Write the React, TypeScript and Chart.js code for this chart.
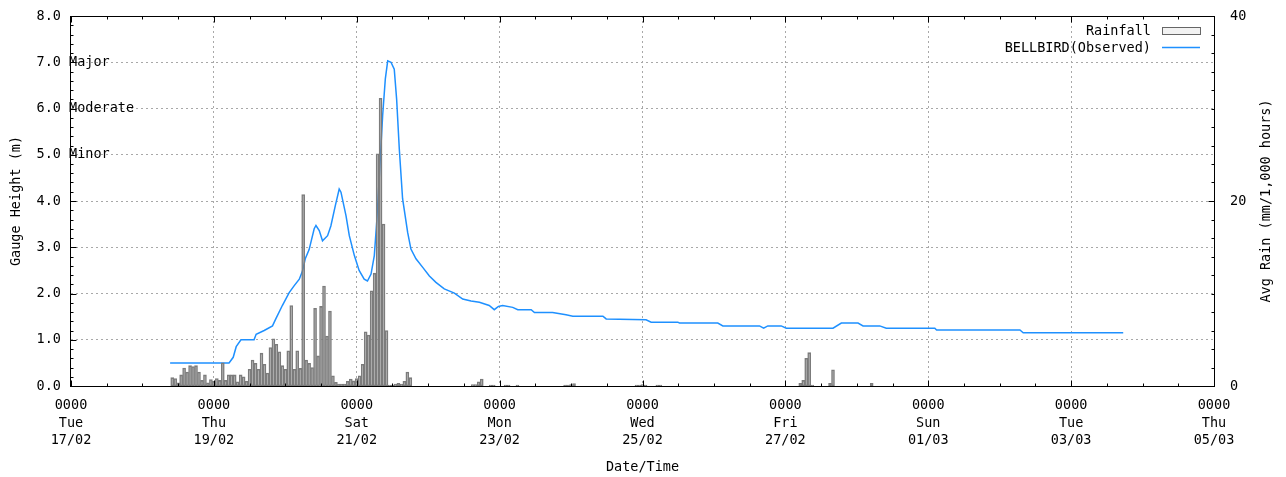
import { useEffect, useRef } from 'react';
import { Chart, registerables } from 'chart.js';

Chart.register(...registerables);

const FAMILY = '"DejaVu Sans Mono", "Liberation Mono", monospace';
const FONT_SIZE = 13.5;

// Hours since Tue 17/02 00:00
const rainHours = [
  34, 35, 36, 37, 38, 39, 40, 41, 42, 43, 44, 45, 46, 47, 48, 49, 50, 51, 52, 53,
  54, 55, 56, 57, 58, 59, 60, 61, 62, 63, 64, 65, 66, 67, 68, 69, 70, 71, 72, 73,
  74, 75, 76, 77, 78, 79, 80, 81, 82, 83, 84, 85, 86, 87, 88, 89, 90, 91, 92, 93,
  94, 95, 96, 97, 98, 99, 100, 101, 102, 103, 104, 105, 106, 107, 108, 109, 110, 111, 112, 113,
  114, 135, 136, 137, 138, 141, 142, 146, 147, 150, 166, 167, 168, 169, 190, 191, 192, 193, 197, 198,
  245, 246, 247, 248, 249, 255, 256, 269,
];
// Avg rain (mm/1,000 hours)
const rainValues = [
  0.9, 0.8, 0.35, 1.2, 1.95, 1.5, 2.2, 2.1, 2.2, 1.5, 0.6, 1.2, 0.35, 0.7, 0.5, 0.8, 0.6, 2.5, 0.6, 1.2,
  1.2, 1.2, 0.45, 1.2, 1.0, 0.5, 1.8, 2.8, 2.45, 1.8, 3.55, 2.35, 1.4, 4.15, 5.1, 4.5, 3.7, 2.2, 1.8, 3.8,
  8.7, 1.8, 3.8, 1.9, 20.7, 2.8, 2.45, 2.0, 8.4, 3.25, 8.6, 10.8, 5.4, 8.1, 1.1, 0.4, 0.2, 0.2, 0.2, 0.5,
  0.75, 0.55, 0.8, 1.1, 2.35, 5.85, 5.5, 10.3, 12.2, 25.1, 31.1, 17.5, 6.0, 0.1, 0.1, 0.2, 0.3, 0.2, 0.5, 1.5,
  0.9, 0.15, 0.15, 0.45, 0.75, 0.1, 0.1, 0.1, 0.1, 0.1, 0.1, 0.1, 0.15, 0.25, 0.1, 0.1, 0.15, 0.1, 0.1, 0.1,
  0.3, 0.6, 3.0, 3.6, 0.1, 0.3, 1.75, 0.3,
];

const levelHours = [
  33.3, 53.1, 54.5, 55.5, 57.1, 61.5, 62.2, 64.9, 67.7, 68.8, 71.0, 73.3, 75.0, 76.7, 77.8, 78.7, 80.0, 81.7,
  82.3, 83.4, 84.5, 86.2, 87.3, 88.8, 90.1, 90.7, 92.4, 93.5, 95.2, 96.8, 98.5, 99.6, 100.8, 101.9, 102.7,
  103.6, 104.7, 105.6, 106.4, 107.5, 108.6, 109.4, 110.3, 111.4, 113.1, 114.2, 115.9, 118.1, 120.4, 122.6,
  125.4, 128.8, 131.6, 134.4, 137.2, 140.5, 142.2, 143.6, 145.0, 148.4, 150.1, 154.6, 155.7, 161.8, 166.3,
  168.6, 178.7, 179.8, 193.2, 194.9, 203.9, 204.4, 217.3, 219.0, 231.3, 232.7, 234.1, 238.6, 240.3, 256.0,
  258.8, 264.4, 266.1, 271.7, 273.9, 290.2, 290.8, 318.8, 319.9, 353.5,
];
// Gauge height (m)
const levelValues = [
  0.50, 0.50, 0.62, 0.85, 1.00, 1.00, 1.12, 1.20, 1.30, 1.45, 1.74, 2.02, 2.17, 2.31, 2.49, 2.75, 2.95, 3.40,
  3.47, 3.36, 3.14, 3.25, 3.46, 3.90, 4.26, 4.19, 3.68, 3.25, 2.82, 2.50, 2.31, 2.27, 2.42, 2.82, 3.54,
  4.55, 5.85, 6.64, 7.03, 7.00, 6.85, 6.20, 5.12, 4.05, 3.32, 2.96, 2.75, 2.57, 2.38, 2.24,
  2.10, 2.01, 1.88, 1.84, 1.81, 1.74, 1.65, 1.72, 1.74, 1.70, 1.65, 1.65, 1.59, 1.59, 1.54,
  1.51, 1.51, 1.45, 1.43, 1.38, 1.38, 1.36, 1.36, 1.30, 1.30, 1.25, 1.30, 1.30, 1.25, 1.25,
  1.36, 1.36, 1.30, 1.30, 1.25, 1.25, 1.21, 1.21, 1.15, 1.15,
];

const tickTime = '0000';
const tickDays = ['Tue', 'Thu', 'Sat', 'Mon', 'Wed', 'Fri', 'Sun', 'Tue', 'Thu'];
const tickDates = ['17/02', '19/02', '21/02', '23/02', '25/02', '27/02', '01/03', '03/03', '05/03'];

const thresholdLevels = [7, 6, 5];
const thresholdNames = ['Major', 'Moderate', 'Minor'];

const X_MAX = 384;
const MAJOR_X = 48;

const isInt = (v: number) => Math.abs(v - Math.round(v)) < 1e-6;
const font = `${FONT_SIZE}px ${FAMILY}`;

const decor = {
  id: 'gnuplotDecor',
  afterDraw(chart: any) {
    const { ctx, chartArea } = chart;
    const { left, right, top, bottom } = chartArea;
    const xs = chart.scales.x;
    const ys = chart.scales.y;
    const y2s = chart.scales.y2;
    const L = Math.round(left) - 0.5;
    const R = Math.round(right) + 0.5;
    const T = Math.round(top) + 0.5;
    const B = Math.round(bottom) + 0.5;
    ctx.save();
    ctx.strokeStyle = '#000';
    ctx.lineWidth = 1;
    ctx.setLineDash([]);
    ctx.strokeRect(L, T, R - L, B - T);
    ctx.beginPath();
    xs.ticks.forEach((t: any) => {
      const px = Math.round(xs.getPixelForValue(t.value)) + 0.5;
      const len = t.value % MAJOR_X === 0 ? 6 : 3;
      ctx.moveTo(px, B);
      ctx.lineTo(px, B - len);
      ctx.moveTo(px, T);
      ctx.lineTo(px, T + len);
    });
    ys.ticks.forEach((t: any) => {
      const py = Math.round(ys.getPixelForValue(t.value)) + 0.5;
      const len = isInt(t.value) ? 6 : 3;
      ctx.moveTo(L, py);
      ctx.lineTo(L + len, py);
    });
    y2s.ticks.forEach((t: any) => {
      const py = Math.round(y2s.getPixelForValue(t.value)) + 0.5;
      const len = t.value % 20 === 0 ? 6 : 3;
      ctx.moveTo(R, py);
      ctx.lineTo(R - len, py);
    });
    ctx.stroke();

    ctx.fillStyle = '#000';
    ctx.font = font;
    ctx.textBaseline = 'middle';
    ctx.textAlign = 'left';
    thresholdLevels.forEach((lv, i) => {
      ctx.fillText(thresholdNames[i], left - 2, ys.getPixelForValue(lv));
    });

    // legend
    const ds = chart.data.datasets;
    ctx.textAlign = 'right';
    ctx.fillText(ds[0].label, right - 63, top + 15);
    ctx.fillText(ds[1].label, right - 63, top + 32);
    ctx.fillStyle = '#f2f2f2';
    ctx.fillRect(right - 52, top + 11, 38, 7);
    ctx.strokeStyle = '#666';
    ctx.strokeRect(right - 51.5, top + 11.5, 38, 7);
    ctx.strokeStyle = ds[1].borderColor;
    ctx.lineWidth = 1.5;
    ctx.beginPath();
    ctx.moveTo(right - 52, top + 31.5);
    ctx.lineTo(right - 14, top + 31.5);
    ctx.stroke();

    // right axis title (reads bottom to top)
    ctx.fillStyle = '#000';
    ctx.translate(right + 52, (top + bottom) / 2);
    ctx.rotate(-Math.PI / 2);
    ctx.textAlign = 'center';
    ctx.fillText('Avg Rain (mm/1,000 hours)', 0, 0);
    ctx.restore();
  },
};

const fixBox = (w: number | null, h: number | null) => (s: any) => {
  if (w !== null) s.width = w;
  if (h !== null) s.height = h;
  s.paddingTop = 0;
  s.paddingBottom = 0;
  s.paddingLeft = 0;
  s.paddingRight = 0;
};

export default function App() {
  const ref = useRef<HTMLCanvasElement>(null);
  useEffect(() => {
    if (!ref.current) return;
    const tickFont = { family: FAMILY, size: FONT_SIZE, lineHeight: 1.3 };
    const titleFont = { family: FAMILY, size: FONT_SIZE, lineHeight: 1.2 };
    const gridColor = '#a8a8a8';
    const chart = new Chart(ref.current, {
      type: 'bar',
      data: {
        datasets: [
          {
            type: 'bar',
            label: 'Rainfall',
            data: rainHours.map((h, i) => ({ x: h, y: rainValues[i] })),
            xAxisID: 'x',
            yAxisID: 'y2',
            backgroundColor: 'rgba(128,128,128,0.35)',
            borderColor: '#7c7c7c',
            borderWidth: 0.9,
            borderSkipped: false,
            barPercentage: 1,
            categoryPercentage: 1,
          } as any,
          {
            type: 'line',
            label: 'BELLBIRD(Observed)',
            data: levelHours.map((h, i) => ({ x: h, y: levelValues[i] })),
            xAxisID: 'x',
            yAxisID: 'y',
            borderColor: '#1e90ff',
            borderWidth: 1.5,
            pointRadius: 0,
            tension: 0,
            fill: false,
          } as any,
        ],
      },
      options: {
        responsive: false,
        animation: false,
        events: [],
        layout: { padding: { top: 16, left: 0, right: 0, bottom: 0 }, autoPadding: false },
        plugins: { legend: { display: false }, tooltip: { enabled: false } },
        scales: {
          x: {
            type: 'linear',
            position: 'bottom',
            min: 0,
            max: X_MAX,
            offset: false,
            afterFit: fixBox(null, 91),
            ticks: {
              stepSize: 12,
              autoSkip: false,
              maxRotation: 0,
              minRotation: 0,
              padding: 11,
              color: '#000',
              font: tickFont,
              callback: (v: any) => {
                const n = Number(v);
                if (n % MAJOR_X !== 0) return '';
                const k = n / MAJOR_X;
                return [tickTime, tickDays[k], tickDates[k]];
              },
            },
            grid: {
              offset: false,
              drawTicks: false,
              lineWidth: 1,
              color: (c: any) => {
                const v = c.tick ? c.tick.value : -1;
                return v > 0 && v < X_MAX && v % MAJOR_X === 0 ? gridColor : 'rgba(0,0,0,0)';
              },
            },
            border: { display: false, dash: [2, 3] },
            title: { display: true, text: 'Date/Time', color: '#000', font: titleFont, padding: { top: 0, bottom: 1 } },
          },
          y: {
            type: 'linear',
            position: 'left',
            min: 0,
            max: 8,
            afterFit: fixBox(71, null),
            ticks: {
              stepSize: 0.2,
              autoSkip: false,
              padding: 10,
              color: '#000',
              font: tickFont,
              callback: (v: any) => (isInt(Number(v)) ? Number(v).toFixed(1) : ''),
            },
            grid: {
              drawTicks: false,
              lineWidth: 1,
              color: (c: any) => {
                const v = c.tick ? c.tick.value : -1;
                return v > 0.01 && v < 7.99 && isInt(v) ? gridColor : 'rgba(0,0,0,0)';
              },
            },
            border: { display: false, dash: [2, 3] },
            title: { display: true, text: 'Gauge Height (m)', color: '#000', font: titleFont, padding: { top: 8, bottom: 0 } },
          },
          y2: {
            type: 'linear',
            position: 'right',
            min: 0,
            max: 40,
            afterFit: fixBox(72, null),
            ticks: {
              stepSize: 2,
              autoSkip: false,
              padding: 16,
              color: '#000',
              font: tickFont,
              callback: (v: any) => (Number(v) % 20 === 0 ? String(v) : ''),
            },
            grid: { display: false, drawTicks: false },
            border: { display: false },
          },
        },
      } as any,
      plugins: [decor],
    });
    return () => chart.destroy();
  }, []);
  return (
    <div style={{ position: 'fixed', left: 0, top: 0, width: 1286, height: 477, background: '#fff' }}>
      <canvas ref={ref} width={1286} height={477} style={{ display: 'block', width: 1286, height: 477 }} />
    </div>
  );
}
